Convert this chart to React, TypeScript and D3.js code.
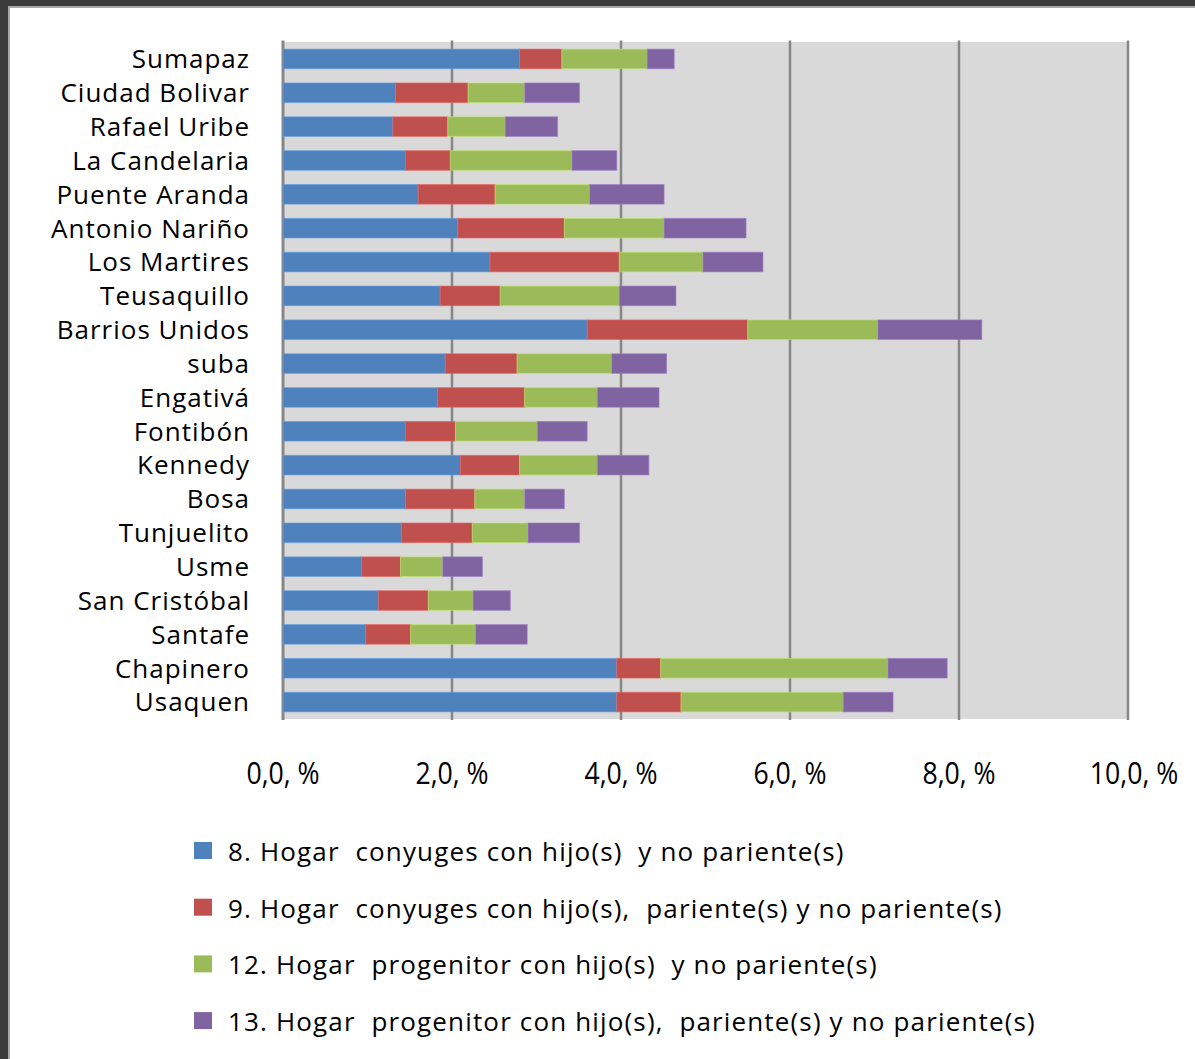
import React, { useEffect, useRef } from "react";
import * as d3 from "d3";

const categories = [
  "Sumapaz", "Ciudad Bolivar", "Rafael Uribe", "La Candelaria", "Puente Aranda",
  "Antonio Nariño", "Los Martires", "Teusaquillo", "Barrios Unidos", "suba",
  "Engativá", "Fontibón", "Kennedy", "Bosa", "Tunjuelito", "Usme",
  "San Cristóbal", "Santafe", "Chapinero", "Usaquen",
];

const seriesNames = [
  "8. Hogar  conyuges con hijo(s)  y no pariente(s)",
  "9. Hogar  conyuges con hijo(s),  pariente(s) y no pariente(s)",
  "12. Hogar  progenitor con hijo(s)  y no pariente(s)",
  "13. Hogar  progenitor con hijo(s),  pariente(s) y no pariente(s)",
];

const s8 = [2.80, 1.33, 1.30, 1.45, 1.60, 2.07, 2.45, 1.86, 3.60, 1.92, 1.83, 1.45, 2.10, 1.45, 1.40, 0.93, 1.13, 0.98, 3.95, 3.95];
const s9 = [0.50, 0.86, 0.65, 0.53, 0.91, 1.26, 1.53, 0.71, 1.90, 0.85, 1.03, 0.59, 0.70, 0.82, 0.84, 0.46, 0.59, 0.53, 0.52, 0.76];
const s12 = [1.01, 0.67, 0.68, 1.44, 1.12, 1.18, 0.99, 1.41, 1.54, 1.12, 0.86, 0.97, 0.92, 0.59, 0.66, 0.50, 0.53, 0.77, 2.69, 1.92];
const s13 = [0.32, 0.65, 0.62, 0.53, 0.88, 0.97, 0.71, 0.67, 1.23, 0.65, 0.73, 0.59, 0.61, 0.47, 0.61, 0.47, 0.44, 0.61, 0.70, 0.59];

const tickValues = [0, 2, 4, 6, 8, 10];
const tickLabels = ["0,0, %", "2,0, %", "4,0, %", "6,0, %", "8,0, %", "10,0, %"];
const colors = ["#4f81bd", "#c0504d", "#9bbb59", "#8064a2"];

const W = 1195;
const H = 1059;
const FONT = "'Open Sans', 'Noto Sans', sans-serif";

export default function App() {
  const ref = useRef<SVGSVGElement>(null);

  useEffect(() => {
    const svg = d3.select(ref.current);
    svg.selectAll("*").remove();

    // frame
    svg.append("rect").attr("x", 0).attr("y", 0).attr("width", W).attr("height", H).attr("fill", "#ffffff");
    svg.append("rect").attr("x", 0).attr("y", 0).attr("width", W).attr("height", 6).attr("fill", "#3b3b3b");
    svg.append("rect").attr("x", 0).attr("y", 6).attr("width", W).attr("height", 2).attr("fill", "#a6a6a6");
    svg.append("rect").attr("x", 0).attr("y", 0).attr("width", 8).attr("height", H).attr("fill", "#3b3b3b");
    svg.append("rect").attr("x", 8).attr("y", 6).attr("width", 2).attr("height", H).attr("fill", "#a6a6a6");

    const left = 283, right = 1128, top = 42, bottom = 719;
    const x = d3.scaleLinear().domain([0, 10]).range([left, right]);
    const y = d3.scaleBand<string>().domain(categories).range([top, bottom]).paddingInner(0.42).paddingOuter(0.21);

    svg.append("rect").attr("x", left).attr("y", top).attr("width", right - left).attr("height", bottom - top).attr("fill", "#d9d9d9");

    // gridlines
    svg.append("g").selectAll("line").data(tickValues).join("line")
      .attr("x1", (d) => x(d)).attr("x2", (d) => x(d))
      .attr("y1", top - 1.5).attr("y2", bottom + 1)
      .attr("stroke", "#878787")
      .attr("stroke-width", (d) => (d === 0 ? 3 : 2.5));

    // stacked bars
    const rows = categories.map((c, i) => ({ cat: c, a: s8[i], b: s9[i], c: s12[i], d: s13[i] }));
    const stack = d3.stack<any>().keys(["a", "b", "c", "d"]);
    const layers = stack(rows);
    layers.forEach((layer, li) => {
      const col = colors[li];
      svg.append("g").selectAll("rect").data(layer).join("rect")
        .attr("x", (d) => x(d[0]))
        .attr("y", (d) => y((d.data as any).cat)!)
        .attr("width", (d) => x(d[1]) - x(d[0]))
        .attr("height", y.bandwidth())
        .attr("fill", col)
        .attr("stroke", d3.color(col)!.brighter(0.6).formatHex())
        .attr("stroke-opacity", 0.6)
        .attr("stroke-width", 1);
    });

    // category labels
    svg.append("g").selectAll("text").data(categories).join("text")
      .attr("x", 250)
      .attr("y", (d) => y(d)! + y.bandwidth() / 2)
      .attr("dy", "0.36em")
      .attr("text-anchor", "end")
      .attr("font-family", FONT)
      .attr("font-size", 26)
      .attr("letter-spacing", 1)
      .attr("fill", "#000")
      .text((d) => d);

    // x axis labels
    const axis = d3.axisBottom(x).tickValues(tickValues).tickSize(0).tickPadding(0)
      .tickFormat((_, i) => tickLabels[i]);
    const ag = svg.append("g").attr("transform", `translate(0, 784)`).call(axis);
    ag.select(".domain").remove();
    ag.selectAll("text")
      .attr("y", 0).attr("dy", 0)
      .attr("font-family", FONT)
      .attr("font-size", 31)
      .attr("fill", "#000")
      .attr("transform", "scale(0.86,1)");
    ag.selectAll(".tick").attr("transform", (d: any) => `translate(${x(d) + (d === 10 ? 6 : 0)},0)`);

    // legend
    const lg = svg.append("g");
    seriesNames.forEach((name, i) => {
      const cy = 851 + i * 56.7;
      lg.append("rect").attr("x", 194).attr("y", cy - 9).attr("width", 18).attr("height", 17).attr("fill", colors[i]);
      lg.append("text").attr("x", 228).attr("y", cy).attr("dy", "0.38em")
        .attr("font-family", FONT).attr("font-size", 26).attr("fill", "#000")
        .attr("letter-spacing", 1.15)
        .attr("xml:space", "preserve")
        .style("white-space", "pre")
        .text(name);
    });
  }, []);

  return (
    <svg ref={ref} width={W} height={H} style={{ position: "absolute", left: 0, top: 0, display: "block" }} />
  );
}
